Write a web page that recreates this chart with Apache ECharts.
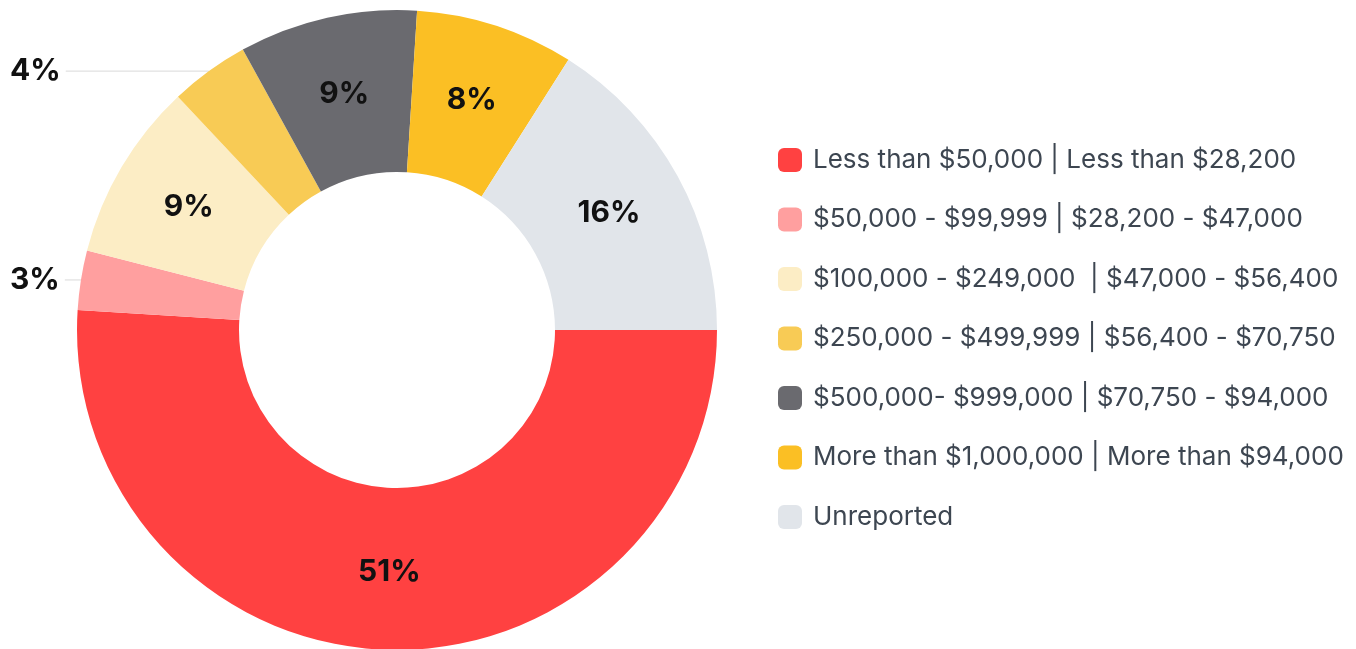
<!DOCTYPE html>
<html>
<head>
<meta charset="UTF-8">
<script src="https://cdn.jsdelivr.net/npm/echarts@6/dist/echarts.min.js"></script>
<style>
  html, body { margin: 0; padding: 0; background: #fff; }
  #chart { width: 1356px; height: 649px; }
</style>
</head>
<body>
<div id="chart"></div>
<script>
// Income brackets (legend text)
const categories = [
  'Less than $50,000 | Less than $28,200',
  '$50,000 - $99,999 | $28,200 - $47,000',
  '$100,000 - $249,000  | $47,000 - $56,400',
  '$250,000 - $499,999 | $56,400 - $70,750',
  '$500,000- $999,000 | $70,750 - $94,000',
  'More than $1,000,000 | More than $94,000',
  'Unreported'
];
const shares = [51, 3, 9, 4, 9, 8, 16];
const colors = ['#ff4141', '#ff9f9f', '#fcedc5', '#f8cb55', '#6a6a6f', '#fbbf24', '#e1e5ea'];
// small slices get their label outside the ring
const outsideLabel = [false, true, false, true, false, false, false];

const chart = echarts.init(document.getElementById('chart'));

const data = categories.map((name, i) => {
  const item = { name, value: shares[i], itemStyle: { color: colors[i] } };
  if (outsideLabel[i]) {
    item.label = { position: 'outside', alignTo: 'edge', edgeDistance: 10 };
    item.labelLine = { show: true, length: 0, length2: 10, lineStyle: { color: '#d9d9d9', width: 1 } };
  }
  return item;
});

chart.setOption({
  animation: false,
  legend: {
    orient: 'vertical',
    left: 773,
    top: 142,
    itemWidth: 24,
    itemHeight: 24,
    itemGap: 33.5,
    icon: 'roundRect',
    selectedMode: false,
    textStyle: {
      fontFamily: 'Inter',
      fontSize: 26,
      color: '#3d4651',
      padding: [0, 0, 0, 6]
    },
    data: categories
  },
  series: [{
    type: 'pie',
    center: [397, 330],
    radius: [158, 320],
    startAngle: 0,
    clockwise: true,
    avoidLabelOverlap: true,
    label: {
      show: true,
      position: 'inside',
      formatter: '{c}%',
      fontFamily: 'Inter',
      fontWeight: 'bold',
      fontSize: 30,
      color: '#111'
    },
    labelLine: { show: false },
    emphasis: { disabled: true },
    data
  }]
});
</script>
</body>
</html>
